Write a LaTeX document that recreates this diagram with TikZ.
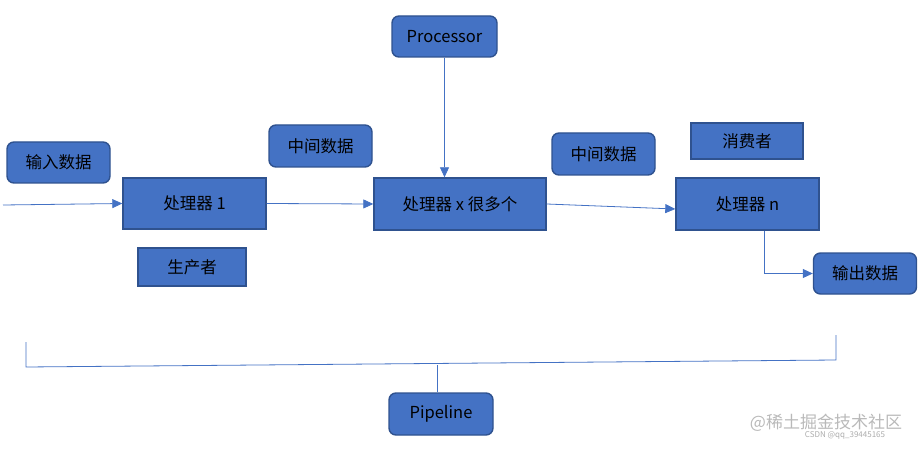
\documentclass[tikz,border=0pt]{standalone}
\usepackage{fontspec}
\setmainfont{Noto Sans CJK SC}
\usepackage{xcolor}
\usepackage{tikz}
\usetikzlibrary{arrows.meta}

\definecolor{boxfill}{HTML}{4472C4}
\definecolor{boxline}{HTML}{2F528F}
\definecolor{linkcol}{HTML}{4472C4}

\begin{document}
\begin{tikzpicture}[x=1pt, y=-1pt,
  box/.style={draw=boxline, line width=1.4pt, fill=boxfill, inner sep=0pt,
    font=\fontsize{16.5}{18}\selectfont, text=black},
  roundbox/.style={box, rounded corners=7pt},
  link/.style={draw=linkcol, line width=0.8pt},
  arrowlink/.style={link, -{Triangle[length=10pt, width=9pt]}}]
\useasboundingbox (0,0) rectangle (923,449);

% boxes
\node[roundbox, minimum width=103pt, minimum height=41pt] (indata) at (58.5,162.5) {输入数据};
\node[box, minimum width=143pt, minimum height=51pt] (proc1) at (194.5,203.5) {处理器 1};
\node[box, minimum width=108pt, minimum height=38pt] (producer) at (192,267) {生产者};
\node[roundbox, minimum width=103pt, minimum height=42pt] (middata1) at (320.5,146) {中间数据};
\node[roundbox, minimum width=105pt, minimum height=41pt] (processor) at (444.5,36.5) {Processor};
\node[box, minimum width=172pt, minimum height=52pt] (procx) at (460,204) {处理器 x 很多个};
\node[roundbox, minimum width=103pt, minimum height=42pt] (middata2) at (603.5,154) {中间数据};
\node[box, minimum width=112pt, minimum height=36pt] (consumer) at (747,141) {消费者};
\node[box, minimum width=143pt, minimum height=52pt] (procn) at (747.5,204) {处理器 n};
\node[roundbox, minimum width=103pt, minimum height=41pt] (outdata) at (865,273.5) {输出数据};
\node[roundbox, minimum width=104pt, minimum height=42pt] (pipeline) at (441,414) {Pipeline};

% connectors
\coordinate (start) at (3,205);
\draw[arrowlink] (start) -- (proc1.west);
\draw[arrowlink] (proc1.east) -- (procx.west);
\draw[arrowlink] (procx.east) -- ([yshift=-5pt]procn.west);
\draw[arrowlink] (processor.south) -- (processor.south |- procx.north);
\draw[arrowlink] ([xshift=16.5pt]procn.south) |- (outdata.west);

% pipeline bracket
\coordinate (bl) at (26,342);
\coordinate (bm) at (26,367);
\coordinate (bn) at (836,360);
\coordinate (br) at (836,335);
\coordinate (stem) at (437,364.5);
\draw[link] (bl) -- (bm) -- (bn) -- (br);
\draw[link] ([xshift=-4pt]pipeline.north) -- ([xshift=-4pt]pipeline.north |- stem);

% watermark
\node[text=gray!55, font=\fontsize{17}{18}\selectfont] (mark) at (826,423) {@稀土掘金技术社区};
\node[text=gray!65, font=\fontsize{8}{9}\selectfont] (csdn) at (845,435) {CSDN @qq\_39445165};

\end{tikzpicture}
\end{document}
